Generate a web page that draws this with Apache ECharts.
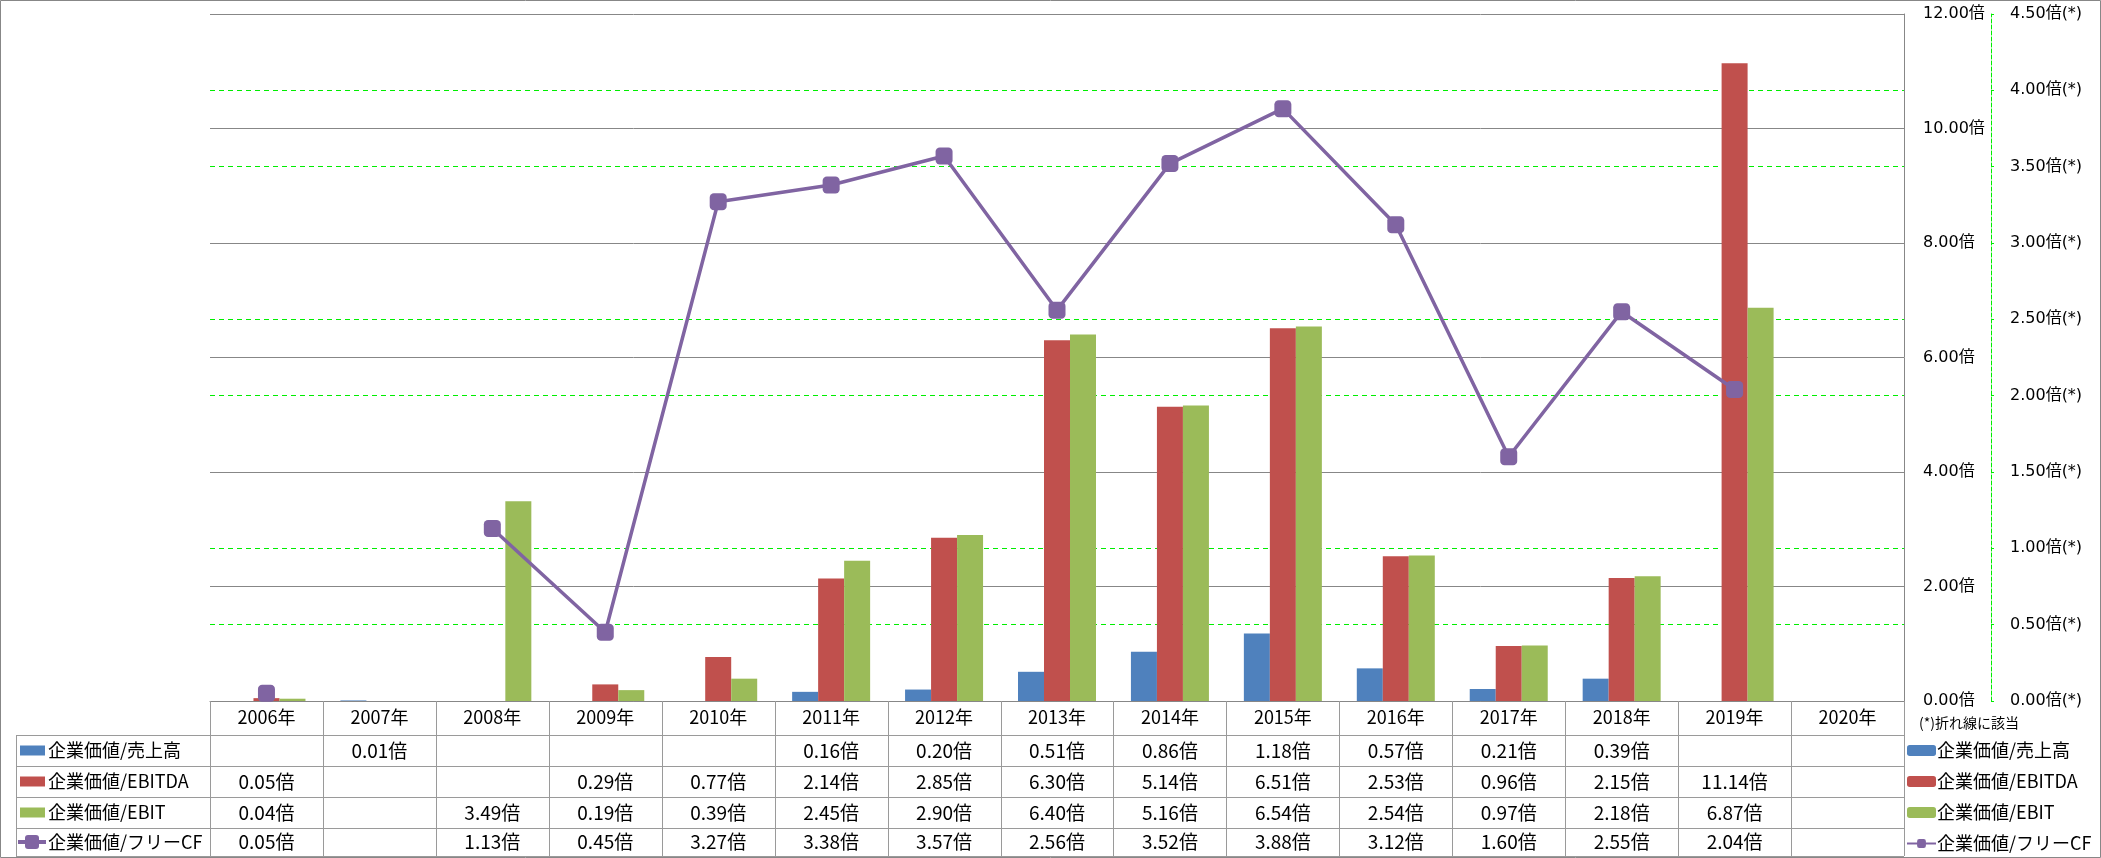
<!DOCTYPE html>
<html><head><meta charset="utf-8">
<script src="https://cdn.jsdelivr.net/npm/echarts@6/dist/echarts.min.js"></script>
<style>html,body{margin:0;padding:0;background:#fff}#c{width:2101px;height:858px}</style>
</head><body><div id="c"></div>
<script>
const categories = ['2006年','2007年','2008年','2009年','2010年','2011年','2012年','2013年','2014年','2015年','2016年','2017年','2018年','2019年','2020年'];
const seriesNames = ['企業価値/売上高','企業価値/EBITDA','企業価値/EBIT','企業価値/フリーCF'];
const salesMultiple  = [null,0.01,null,null,null,0.16,0.20,0.51,0.86,1.18,0.57,0.21,0.39,null,null];
const ebitdaMultiple = [0.05,null,null,0.29,0.77,2.14,2.85,6.30,5.14,6.51,2.53,0.96,2.15,11.14,null];
const ebitMultiple   = [0.04,null,3.49,0.19,0.39,2.45,2.90,6.40,5.16,6.54,2.54,0.97,2.18,6.87,null];
const fcfMultiple    = [0.05,null,1.13,0.45,3.27,3.38,3.57,2.56,3.52,3.88,3.12,1.60,2.55,2.04,null];
const colors = ['#4F81BD','#C0504D','#9BBB59','#8064A2'];
const leftAxis = {min:0, max:12, interval:2};
const rightAxis = {min:0, max:4.5, interval:0.5};
const footnote = '(*)折れ線に該当';

const W = 2101, H = 858;
const G = {left:210, right:197, top:14, bottom:157};
const plotBottom = H - G.bottom;   // 701
const rowTops = [plotBottom, 735, 766, 797, 828, 856];
const tableLeft = 16;
const FONT_T = '"Noto Sans CJK JP", "Noto Sans", sans-serif';
const FONT_A = '"DejaVu Sans", "Noto Sans CJK JP", sans-serif';
const gridGray = '#878787';
const tableGray = '#9a9a9a';
const green = '#00ee00';
const none = 'rgba(0,0,0,0)';

const chart = echarts.init(document.getElementById('c'), null, {renderer:'canvas'});
const allData = [salesMultiple, ebitdaMultiple, ebitMultiple, fcfMultiple];

const option = {
  animation:false,
  backgroundColor:'#fff',
  grid:{left:G.left, right:G.right, top:G.top, bottom:G.bottom, containLabel:false},
  legend:{
    orient:'vertical', left:1906, top:740, height:118, padding:0, itemGap:10, itemWidth:29, itemHeight:11,
    textStyle:{fontFamily:FONT_T, fontSize:18, color:'#000', lineHeight:21, padding:[0,0,0,-4]},
    data:seriesNames
  },
  xAxis:{
    type:'category', data:categories, boundaryGap:true,
    axisLine:{show:true, lineStyle:{color:gridGray, width:1}},
    axisTick:{show:false},
    axisLabel:{fontFamily:FONT_T, fontSize:18, color:'#000', margin:7, interval:0}
  },
  yAxis:[
    {type:'value', position:'right', min:leftAxis.min, max:leftAxis.max, interval:leftAxis.interval,
     axisLine:{show:true, lineStyle:{color:gridGray}}, axisTick:{show:false},
     axisLabel:{fontFamily:FONT_A, fontSize:16, color:'#000', margin:19, formatter:v=>v.toFixed(2)+'倍'},
     splitLine:{show:true, lineStyle:{color:gridGray, width:1}}},
    {type:'value', position:'right', offset:87, min:rightAxis.min, max:rightAxis.max, interval:rightAxis.interval,
     axisLine:{show:true, lineStyle:{color:green, type:'dashed', width:1}},
     axisTick:{show:true, inside:false, length:3, lineStyle:{color:green}},
     axisLabel:{fontFamily:FONT_A, fontSize:16, color:'#000', margin:19, formatter:v=>v.toFixed(2)+'倍(*)'},
     splitLine:{show:true, lineStyle:{color:[none, green, green, none, green, green, none, green, green, none], type:[5,4], width:1}}}
  ],
  series:[
    {name:seriesNames[0], type:'bar', data:salesMultiple, barWidth:26, barGap:'0%', itemStyle:{color:colors[0]}},
    {name:seriesNames[1], type:'bar', data:ebitdaMultiple, barWidth:26, barGap:'0%', itemStyle:{color:colors[1]}},
    {name:seriesNames[2], type:'bar', data:ebitMultiple, barWidth:26, barGap:'0%', itemStyle:{color:colors[2]}},
    {name:seriesNames[3], type:'line', yAxisIndex:1, data:fcfMultiple, connectNulls:false,
     symbol:'roundRect', symbolSize:17, showAllSymbol:true, z:10,
     lineStyle:{color:colors[3], width:3.5}, itemStyle:{color:colors[3]}}
  ]
};
chart.setOption(option);

// build data table from axis positions
const g = [];
const cx = categories.map((c,i)=>chart.convertToPixel({xAxisIndex:0}, i));
const step = cx[1]-cx[0];
const plotRight = W - G.right;
const L = (x1,y1,x2,y2)=>({type:'line', silent:true, z:100, shape:{x1,y1,x2,y2}, style:{stroke:tableGray, lineWidth:1}});
for (let i=0;i<=categories.length;i++){
  const x = Math.round(cx[0]-step/2 + i*step)+0.5;
  g.push(L(x, rowTops[0], x, rowTops[5]));
}
g.push(L(tableLeft+0.5, rowTops[1], tableLeft+0.5, rowTops[5]));
for (let r=1;r<rowTops.length;r++){
  g.push(L(tableLeft, rowTops[r]+0.5, plotRight, rowTops[r]+0.5));
}
allData.forEach((arr, s)=>{
  const yc = (rowTops[s+1]+rowTops[s+2])/2;
  arr.forEach((v,i)=>{
    if (v===null) return;
    g.push({type:'text', silent:true, z:100, x:cx[i], y:yc,
      style:{text:v.toFixed(2)+'倍', font:'19px '+FONT_T, fill:'#000', align:'center', verticalAlign:'middle'}});
  });
  if (s<3){
    g.push({type:'rect', silent:true, z:100, shape:{x:tableLeft+4, y:yc-5, width:25, height:10}, style:{fill:colors[s]}});
  } else {
    g.push({type:'line', silent:true, z:100, shape:{x1:tableLeft+2, y1:yc, x2:tableLeft+30, y2:yc}, style:{stroke:colors[s], lineWidth:4}});
    g.push({type:'rect', silent:true, z:101, shape:{x:tableLeft+9, y:yc-7, width:14, height:14, r:3}, style:{fill:colors[s]}});
  }
  g.push({type:'text', silent:true, z:100, x:tableLeft+32, y:yc,
    style:{text:seriesNames[s], font:'18px '+FONT_T, fill:'#000', align:'left', verticalAlign:'middle'}});
});
g.push({type:'text', silent:true, z:100, x:1919, y:723,
  style:{text:footnote, font:'14px '+FONT_T, fill:'#000', align:'left', verticalAlign:'middle'}});
g.push({type:'rect', silent:true, z:100, shape:{x:0.5, y:0.5, width:W-1, height:H-1}, style:{fill:'none', stroke:gridGray, lineWidth:1}});
chart.setOption({graphic:g});
</script></body></html>
